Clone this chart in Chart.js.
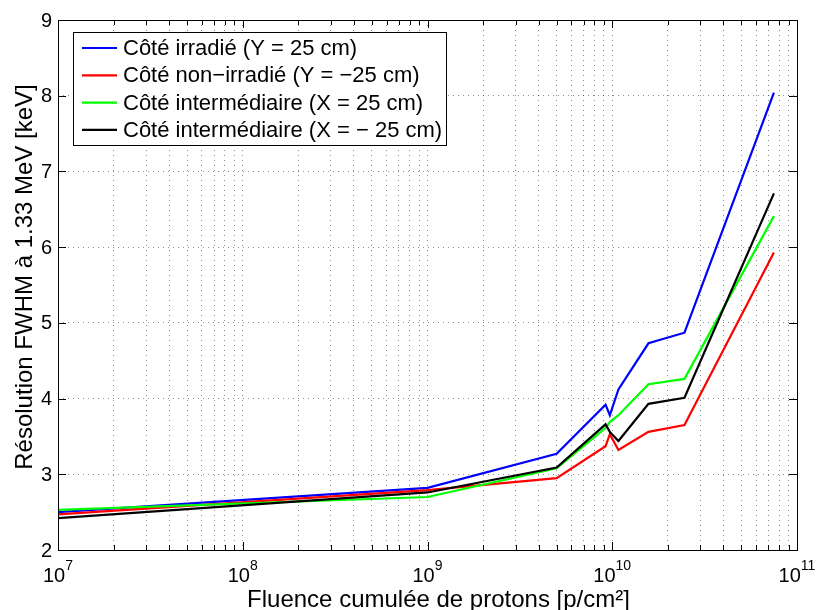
<!DOCTYPE html>
<html>
<head>
<meta charset="utf-8">
<script src="https://cdn.jsdelivr.net/npm/chart.js@4.4.1/dist/chart.umd.min.js"></script>
<style>
  body { margin: 0; background: #fff; }
  canvas { display: block; }
</style>
</head>
<body>
<canvas id="chart" width="818" height="610"></canvas>
<script>
// Fluence points (p/cm2) shared by all four curves
const fluence = [1e7, 1e9, 5e9, 9.2e9, 9.7e9, 1.08e10, 1.57e10, 2.46e10, 7.5e10];

// FWHM resolution at 1.33 MeV (keV)
const irradie      = [2.50, 2.82, 3.27, 3.92, 3.78, 4.12, 4.73, 4.87, 8.04];
const nonIrradie   = [2.47, 2.79, 2.95, 3.37, 3.53, 3.32, 3.56, 3.65, 5.93];
const intermPlus   = [2.53, 2.70, 3.08, 3.61, 3.69, 3.78, 4.19, 4.26, 6.41];
const intermMoins  = [2.42, 2.76, 3.09, 3.66, 3.56, 3.44, 3.93, 4.01, 6.71];

const seriesLabels = [
    'Côté irradié (Y = 25 cm)',
    'Côté non\u2212irradié (Y = \u221225 cm)',
    'Côté intermédiaire (X = 25 cm)',
    'Côté intermédiaire (X = \u2212 25 cm)'
];
const seriesColors = ['#0000ff', '#ff0000', '#00ff00', '#000000'];

// Axis ticks
const xTickExps = [7, 8, 9, 10, 11];
const yTicks = [2, 3, 4, 5, 6, 7, 8, 9];

const xTitle = 'Fluence cumulée de protons [p/cm²]';
const yTitle = 'Résolution FWHM à 1.33 MeV [keV]';

const FONT = '"Liberation Sans", Arial, Helvetica, sans-serif';

function toPoints(values) {
    return fluence.map((x, i) => ({ x: x, y: values[i] }));
}

const allSeries = [irradie, nonIrradie, intermPlus, intermMoins];

const datasets = allSeries.map((values, i) => ({
    label: seriesLabels[i],
    data: toPoints(values),
    borderColor: seriesColors[i],
    backgroundColor: seriesColors[i],
    borderWidth: 2.2,
    pointRadius: 0,
    tension: 0,
    fill: false,
    order: allSeries.length - i   // black drawn last, blue first
}));

// Draws the MATLAB-style frame, inward ticks, labels, titles and legend
const matlabFrame = {
    id: 'matlabFrame',
    afterDraw(chart) {
        const ctx = chart.ctx;
        const area = chart.chartArea;
        const xs = chart.scales.x;
        const ys = chart.scales.y;

        ctx.save();
        ctx.strokeStyle = '#000';
        ctx.lineWidth = 1;
        ctx.setLineDash([]);

        // inward tick marks on all four sides
        ctx.beginPath();
        xs.ticks.forEach(t => {
            const px = Math.round(xs.getPixelForValue(t.value)) + 0.5;
            const len = t.major ? 8 : 5;
            ctx.moveTo(px, area.bottom);
            ctx.lineTo(px, area.bottom - len);
            ctx.moveTo(px, area.top);
            ctx.lineTo(px, area.top + len);
        });
        ys.ticks.forEach(t => {
            const py = Math.round(ys.getPixelForValue(t.value)) + 0.5;
            ctx.moveTo(area.left, py);
            ctx.lineTo(area.left + 8, py);
            ctx.moveTo(area.right, py);
            ctx.lineTo(area.right - 8, py);
        });
        ctx.stroke();

        // box
        ctx.strokeRect(Math.round(area.left) + 0.5, Math.round(area.top) + 0.5,
            Math.round(area.right - area.left), Math.round(area.bottom - area.top));

        ctx.fillStyle = '#000';

        // y tick labels
        ctx.font = '20px ' + FONT;
        ctx.textAlign = 'right';
        ctx.textBaseline = 'middle';
        yTicks.forEach(v => {
            ctx.fillText(String(v), area.left - 6, ys.getPixelForValue(v) + 1);
        });

        // x tick labels as 10 with superscript exponent
        ctx.textBaseline = 'alphabetic';
        ctx.textAlign = 'left';
        xTickExps.forEach(e => {
            const px = xs.getPixelForValue(Math.pow(10, e));
            ctx.font = '20px ' + FONT;
            const wb = ctx.measureText('10').width;
            ctx.font = '14px ' + FONT;
            const we = ctx.measureText(String(e)).width;
            const x0 = px - (wb + we) / 2;
            ctx.font = '20px ' + FONT;
            ctx.fillText('10', x0, area.bottom + 32);
            ctx.font = '14px ' + FONT;
            ctx.fillText(String(e), x0 + wb, area.bottom + 20);
        });

        // axis titles
        ctx.font = '24px ' + FONT;
        ctx.textAlign = 'center';
        ctx.fillText(xTitle, (area.left + area.right) / 2 + 11, 607);

        ctx.save();
        ctx.translate(32, (area.top + area.bottom) / 2 - 8);
        ctx.rotate(-Math.PI / 2);
        ctx.fillText(yTitle, 0, 0);
        ctx.restore();

        // legend box
        const lx = 73.5, ly = 32.5, lw = 373, lh = 113;
        ctx.fillStyle = '#fff';
        ctx.fillRect(lx, ly, lw, lh);
        ctx.strokeStyle = '#000';
        ctx.strokeRect(lx, ly, lw, lh);

        ctx.font = '22px ' + FONT;
        ctx.textAlign = 'left';
        ctx.textBaseline = 'middle';
        chart.data.datasets.forEach((ds, i) => {
            const ry = 48 + i * 27.3;
            ctx.strokeStyle = ds.borderColor;
            ctx.lineWidth = 2.2;
            ctx.beginPath();
            ctx.moveTo(82, ry);
            ctx.lineTo(117, ry);
            ctx.stroke();
            ctx.fillStyle = '#000';
            ctx.fillText(ds.label, 123, ry + 1);
        });

        ctx.restore();
    }
};

const ctx = document.getElementById('chart').getContext('2d');

new Chart(ctx, {
    type: 'line',
    data: { datasets: datasets },
    options: {
        responsive: false,
        devicePixelRatio: 1,
        animation: false,
        layout: { padding: { top: 20, right: 21, left: 0, bottom: 0 } },
        plugins: {
            legend: { display: false },
            tooltip: { enabled: false }
        },
        scales: {
            x: {
                type: 'logarithmic',
                min: 1e7,
                max: 1e11,
                afterBuildTicks: function(scale) {
                    const ticks = [];
                    for (let i = 0; i < xTickExps.length - 1; i++) {
                        const base = Math.pow(10, xTickExps[i]);
                        for (let k = 1; k <= 9; k++) {
                            ticks.push({ value: k * base, major: k === 1 });
                        }
                    }
                    ticks.push({ value: Math.pow(10, xTickExps[xTickExps.length - 1]), major: true });
                    scale.ticks = ticks;
                },
                afterFit: function(scale) { scale.height = 60; },
                ticks: { display: false, autoSkip: false },
                grid: {
                    color: 'rgba(0,0,0,0.45)',
                    lineWidth: 1,
                    drawTicks: false
                },
                border: { display: false, dash: [1, 4] }
            },
            y: {
                type: 'linear',
                min: 2,
                max: 9,
                afterBuildTicks: function(scale) {
                    scale.ticks = yTicks.map(v => ({ value: v }));
                },
                afterFit: function(scale) { scale.width = 58; },
                ticks: { display: false },
                grid: {
                    color: 'rgba(0,0,0,0.45)',
                    lineWidth: 1,
                    drawTicks: false
                },
                border: { display: false, dash: [1, 4] }
            }
        }
    },
    plugins: [matlabFrame]
});
</script>
</body>
</html>
